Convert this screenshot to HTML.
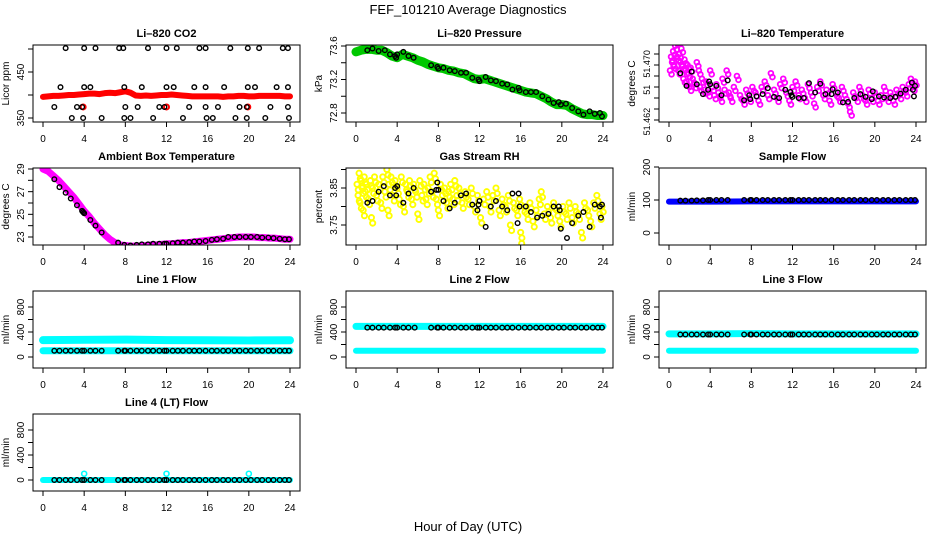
<!DOCTYPE html>
<html><head><meta charset="utf-8">
<style>
html,body{margin:0;padding:0;background:#fff;}
svg{display:block;font-family:"Liberation Sans",Arial,sans-serif;}
</style></head>
<body>
<svg id="chart" width="936" height="540" viewBox="0 0 936 540" xmlns="http://www.w3.org/2000/svg">
<rect x="0" y="0" width="936" height="540" fill="#fff"/>
<text x="468" y="14" text-anchor="middle" font-size="13">FEF_101210  Average Diagnostics</text>
<text x="468" y="531" text-anchor="middle" font-size="13">Hour of Day (UTC)</text>
</svg>
<script>
// ---------- data ----------
const xTicks=[0,4,8,12,16,20,24];
const hourGrid=[0,0.5,1,1.5,2,2.5,3,3.5,4,4.5,5,5.5,6,6.5,7,7.5,8,8.5,9,9.5,10,10.5,11,11.5,12,12.5,13,13.5,14,14.5,15,15.5,16,16.5,17,17.5,18,18.5,19,19.5,20,20.5,21,21.5,22,22.5,23,23.5,24];

// CO2
const co2Red=[396,397,398,398,399,400,400,401,402,403,403,402,404,405,404,406,408,405,399,398,399,398,399,400,400,401,400,399,398,397,397,397,397,397,397,396,397,397,398,398,397,397,398,398,398,398,398,397,397];
const co2BlackH=[2.2,4,5.1,7.4,7.8,10.2,12,13,15.2,15.8,18.2,19.9,21,23.3,23.8, 1.7,4,4.6,7.9,9.6,12,12.7,14.7,15.8,17.6,19.9,20.6,22.7,23.8, 1.1,3.3,3.8,8,9.2,11.3,11.8,14.2,15.8,17,19.1,19.8,22.1,23.8, 2.8,3.9,5.7,7.9,8.5,10.7,13.6,15.9,16.5,18.7,19.8,21.6,23.9];
const co2BlackV=[502,502,502,502,502,502,502,502,502,502,502,502,502,502,502, 417,417,417,417,417,417,417,417,417,417,417,417,417,417, 374,374,374,374,374,374,374,374,374,374,374,374,374,374, 350,350,350,350,350,350,350,350,350,350,350,350,350,350];
const co2RedDotH=[3.9,12,19.9];
const co2RedDotV=[374,374,374];

// Pressure
const presGreen=[73.53,73.55,73.56,73.56,73.55,73.55,73.52,73.48,73.46,73.5,73.48,73.46,73.43,73.41,73.38,73.36,73.34,73.33,73.31,73.3,73.28,73.27,73.24,73.21,73.2,73.21,73.19,73.17,73.15,73.13,73.11,73.09,73.07,73.05,73.04,73.03,73.0,72.97,72.93,72.9,72.9,72.89,72.85,72.82,72.79,72.78,72.78,72.77,72.77];
const presBlackH=[1.1,1.6,2.2,2.8,3.3,3.8,3.9,4,4.6,5.1,5.6,7.3,7.9,8,8.5,9.1,9.6,10.2,10.7,11.3,11.9,12,12.6,13.1,13.6,14.2,14.7,15.2,15.8,15.9,16.5,17,17.5,18.1,18.7,19.2,19.7,19.9,20.4,21,21.6,22.1,22.7,23.2,23.7,23.9];
const presBlackV=[73.55,73.57,73.54,73.55,73.5,73.48,73.46,73.5,73.53,73.48,73.46,73.37,73.35,73.33,73.34,73.31,73.3,73.28,73.28,73.22,73.2,73.18,73.23,73.19,73.18,73.15,73.14,73.08,73.1,73.07,73.05,73.05,73.05,73.0,72.96,72.92,72.93,72.9,72.91,72.86,72.82,72.78,72.82,72.79,72.8,72.76];

// Li-820 temperature
const tempMagH=[0.1,0.2,0.3,0.4,0.5,0.6,0.7,0.8,0.9,1.0,1.1,1.2,1.3,1.4,1.5,1.6,1.7,1.8,1.9,2.0,2.1,2.3,2.5,2.7,2.9,3.0,3.2,3.4,3.6,3.8,4.0,4.2,4.4,4.6,4.8,5.0,5.2,5.4,5.6,5.8,6.0,6.3,6.6,6.9,7.2,7.5,7.8,8.1,8.4,8.7,9.0,9.3,9.6,9.9,10.2,10.5,10.8,11.1,11.4,11.7,12.0,12.3,12.6,12.9,13.2,13.5,13.8,14.1,14.4,14.7,15.0,15.3,15.6,15.9,16.2,16.5,16.8,17.1,17.4,17.6,17.9,18.2,18.5,18.8,19.1,19.4,19.7,20.0,20.3,20.6,20.9,21.2,21.5,21.8,22.1,22.4,22.7,23.0,23.3,23.5,23.7,23.9];
const tempMagV=[51.4690,51.4715,51.4705,51.4725,51.4700,51.4735,51.4745,51.4715,51.4690,51.4720,51.4705,51.4730,51.4700,51.4675,51.4710,51.4690,51.4670,51.4700,51.4685,51.4660,51.4695,51.4675,51.4665,51.4705,51.4690,51.4660,51.4675,51.4655,51.4670,51.4650,51.4690,51.4660,51.4645,51.4665,51.4650,51.4640,51.4675,51.4655,51.4690,51.4650,51.4640,51.4660,51.4680,51.4645,51.4635,51.4655,51.4640,51.4660,51.4650,51.4635,51.4660,51.4670,51.4645,51.4685,51.4655,51.4640,51.4665,51.4675,51.4650,51.4635,51.4660,51.4670,51.4645,51.4655,51.4640,51.4665,51.4650,51.4630,51.4660,51.4670,51.4645,51.4655,51.4635,51.4665,51.4650,51.4640,51.4660,51.4645,51.4630,51.4615,51.4650,51.4640,51.4660,51.4645,51.4635,51.4655,51.4640,51.4650,51.4635,51.4645,51.4660,51.4640,51.4650,51.4635,51.4655,51.4645,51.4660,51.4650,51.4665,51.4675,51.4660,51.4670];
const tempBlackH=[1.1,1.7,2.2,2.7,3.3,3.8,3.9,4.0,4.6,5.1,5.7,7.3,7.8,7.9,8.5,9.1,9.6,10.2,10.7,11.3,11.8,11.9,12.0,12.6,13.1,13.6,14.2,14.7,15.2,15.8,15.9,16.4,16.9,17.4,18.0,18.6,19.1,19.7,19.8,20.4,20.9,21.5,22.0,22.5,23.0,23.6,23.7,23.8,23.9];
const tempBlackV=[51.4685,51.4662,51.4688,51.4665,51.4647,51.4655,51.4670,51.4665,51.4662,51.4645,51.4672,51.4636,51.4645,51.4638,51.4643,51.4647,51.4658,51.4642,51.4640,51.4655,51.4651,51.4645,51.4642,51.4640,51.4640,51.4667,51.4650,51.4666,51.4647,51.4647,51.4656,51.4650,51.4632,51.4633,51.4640,51.4647,51.4642,51.4638,51.4652,51.4643,51.4641,51.4640,51.4642,51.4648,51.4655,51.4668,51.4655,51.4643,51.4662];

// Ambient box temperature
const ambLine=[29.0,28.8,28.4,28.0,27.5,27.0,26.5,25.9,25.3,24.8,24.2,23.7,23.2,22.8,22.5,22.3,22.25,22.2,22.2,22.2,22.25,22.3,22.3,22.35,22.4,22.4,22.45,22.5,22.5,22.55,22.6,22.65,22.7,22.75,22.8,22.85,22.9,22.95,23.0,23.0,23.0,23.0,22.95,22.95,22.9,22.9,22.85,22.8,22.8];
const ambBlackH=[1.1,1.6,2.2,2.7,3.3,3.8,3.9,4.0,4.6,5.1,5.7,7.3,7.9,8.5,9.1,9.6,10.2,10.7,11.3,11.8,12.0,12.6,13.1,13.6,14.2,14.7,15.2,15.8,16.4,16.9,17.5,18.0,18.6,19.1,19.7,20.2,20.8,21.3,21.9,22.4,23.0,23.5,23.9];
const ambBlackV=[28.1,27.4,26.9,26.4,25.8,25.3,25.2,25.1,24.5,24.0,23.4,22.5,22.3,22.25,22.3,22.35,22.35,22.4,22.4,22.4,22.4,22.45,22.5,22.5,22.55,22.6,22.6,22.65,22.75,22.8,22.85,23.0,23.0,23.0,23.0,23.0,23.0,22.95,22.95,22.9,22.85,22.8,22.8];

// Gas stream RH
const rhYelH=[0.1,0.2,0.3,0.4,0.5,0.6,0.7,0.8,0.9,1.0,1.2,1.4,1.5,1.6,1.8,2.0,2.2,2.4,2.6,2.8,3.0,3.1,3.2,3.4,3.6,3.8,4.0,4.2,4.4,4.6,4.8,5.0,5.2,5.4,5.6,5.8,6.0,6.2,6.4,6.6,6.8,7.0,7.2,7.4,7.6,7.8,8.0,8.2,8.4,8.6,8.8,9.0,9.2,9.4,9.6,9.8,10.0,10.3,10.6,10.9,11.2,11.5,11.8,12.1,12.4,12.7,13.0,13.3,13.6,13.9,14.2,14.5,14.8,15.0,15.3,15.6,15.9,16.0,16.1,16.3,16.6,16.9,17.2,17.5,17.8,18.0,18.3,18.6,18.9,19.2,19.5,19.8,20.1,20.4,20.7,21.0,21.3,21.6,21.9,22.2,22.5,22.8,23.1,23.4,23.7,23.9];
const rhYelV=[3.86,3.83,3.89,3.81,3.87,3.85,3.79,3.88,3.84,3.86,3.82,3.87,3.77,3.85,3.88,3.83,3.86,3.81,3.88,3.84,3.90,3.79,3.86,3.88,3.83,3.87,3.85,3.82,3.88,3.80,3.86,3.84,3.87,3.82,3.86,3.84,3.78,3.87,3.83,3.86,3.82,3.85,3.88,3.84,3.89,3.82,3.79,3.86,3.83,3.85,3.81,3.84,3.86,3.82,3.87,3.83,3.85,3.81,3.84,3.82,3.85,3.80,3.83,3.77,3.82,3.84,3.80,3.83,3.85,3.79,3.82,3.80,3.83,3.75,3.81,3.79,3.82,3.73,3.70,3.80,3.78,3.81,3.76,3.79,3.82,3.84,3.78,3.80,3.77,3.81,3.79,3.76,3.80,3.78,3.81,3.77,3.80,3.78,3.73,3.81,3.79,3.76,3.81,3.83,3.78,3.80];
const rhBlackH=[1.1,1.6,2.2,2.7,3.3,3.8,3.9,4.0,4.6,5.1,5.6,7.3,7.8,7.9,8.0,8.5,9.1,9.6,10.2,10.7,11.3,11.8,11.9,12.0,12.6,13.1,13.6,14.2,14.7,15.2,15.7,15.8,15.9,16.5,17.0,17.6,18.1,18.7,19.2,19.7,19.8,19.9,20.5,21.0,21.6,22.1,22.7,23.2,23.7,23.8,23.9];
const rhBlackV=[3.81,3.815,3.84,3.855,3.83,3.85,3.83,3.855,3.81,3.835,3.85,3.84,3.845,3.865,3.845,3.815,3.795,3.81,3.83,3.835,3.805,3.79,3.805,3.815,3.745,3.80,3.815,3.80,3.79,3.835,3.755,3.835,3.80,3.80,3.785,3.77,3.775,3.78,3.80,3.80,3.79,3.74,3.715,3.755,3.775,3.785,3.745,3.805,3.80,3.77,3.805];

// Sample flow
const sampleBlueH=[0,4,8,12,16,20,24];
const sampleBlueV=[95,95,96,96,96,96,96];
const flowBlackH=[1.1,1.6,2.2,2.7,3.3,3.8,4.0,4.6,5.1,5.7,7.3,7.9,8.0,8.5,9.1,9.6,10.2,10.7,11.3,11.8,12.0,12.6,13.1,13.6,14.2,14.7,15.2,15.8,16.4,16.9,17.5,18.0,18.6,19.1,19.7,20.2,20.8,21.3,21.9,22.4,23.0,23.5,23.9];
const sampleBlackV=[98,98,98,99,99,100,100,100,100,100,100,100,100,100,100,100,100,100,100,100,100,100,100,100,100,100,100,100,100,100,100,100,100,100,100,100,100,100,100,100,100,100,100];

// Line flows (cyan bands sampled at hours)
const lineH=[0,4,8,12,16,20,24];
const line1High=[270,275,278,270,268,265,268];
const line1Low=[100,100,100,100,100,100,100];
const line1Black=100;
const line2High=[490,490,490,490,490,490,490];
const line2Low=[100,100,100,100,100,100,100];
const line2Black=470;
const line3High=[370,370,375,370,370,370,370];
const line3Low=[100,100,100,100,100,100,100];
const line3Black=360;
const line4Low=[0,0,0,0,0,0,0];
const line4Black=0;
const line4SpikeH=[4,12,20];
const line4SpikeV=[100,100,100];

// ---------- drawing ----------
const NS='http://www.w3.org/2000/svg';
const svg=document.getElementById('chart');
function el(tag,attrs,parent){const e=document.createElementNS(NS,tag);for(const k in attrs)e.setAttribute(k,attrs[k]);(parent||svg).appendChild(e);return e;}

const W=267,H=77;
function makePanel(cfg){
  const g=el('g',{});
  
  
  const L=cfg.left,T=cfg.top;
  const xs=h=>L+10+h*(247/24);
  const ys=v=>cfg.a[1]+(v-cfg.a[0])*(cfg.b[1]-cfg.a[1])/(cfg.b[0]-cfg.a[0]);
  const t=el('text',{x:L+W/2,y:T-8,'text-anchor':'middle','font-size':11,'font-weight':'bold'},g);
  t.textContent=cfg.title;
  
  
  const yl=el('text',{x:0,y:0,'text-anchor':'middle','font-size':10,transform:`translate(${L-24},${T+H/2}) rotate(-90)`},g);
  yl.textContent=cfg.ylab;
  
  
  el('line',{x1:xs(0),x2:xs(24),y1:T+H,y2:T+H,stroke:'#000'},g);
  xTicks.forEach(v=>{
    el('line',{x1:xs(v),x2:xs(v),y1:T+H,y2:T+H+5,stroke:'#000'},g);
    const tx=el('text',{x:xs(v),y:T+H+20,'text-anchor':'middle','font-size':10},g);
    tx.textContent=v;
    
    
  });
  cfg.ticks.forEach(v=>{el('line',{x1:L-5,x2:L,y1:ys(v),y2:ys(v),stroke:'#000'},g);});
  const lfs=cfg.labelSize||10;
  cfg.labels.forEach(([v,s])=>{
    const ty=el('text',{x:0,y:0,'text-anchor':'middle','font-size':lfs,transform:`translate(${L-9},${ys(v)}) rotate(-90)`},g);
    ty.textContent=s;
    
    
  });
  const cp='clip'+cfg.name;
  const cl=el('clipPath',{id:cp},g);el('rect',{x:L,y:T,width:W,height:H},cl);
  const plot=el('g',{'clip-path':`url(#${cp})`},g);
  
  
  cfg.draw(plot,xs,ys);
  el('rect',{x:L,y:T,width:W,height:H,fill:'none',stroke:'#000'},g);
}
function band(p,xs,ys,H_,V,color,w,name){
  const pl=el('polyline',{points:H_.map((h,i)=>xs(h)+','+ys(V[i])).join(' '),fill:'none',stroke:color,'stroke-width':w,'stroke-linejoin':'round','stroke-linecap':'round'},p);
  
  
}
function pts(p,xs,ys,H_,V,color,r,sw,name){
  H_.forEach((h,i)=>{
    const v=Array.isArray(V)?V[i]:V;
    const c=el('circle',{cx:xs(h),cy:ys(v),r:r,fill:'none',stroke:color,'stroke-width':sw},p);
    
    
  });
}
const C=[33,346,659], R=[45,168,291,414];

makePanel({name:'panel-co2',title:'Li\u2013820 CO2',ylab:'Licor ppm',left:C[0],top:R[0],a:[350,118],b:[450,72],ticks:[350,400,450,500],labels:[[350,'350'],[450,'450']],
 draw:(p,xs,ys)=>{band(p,xs,ys,hourGrid,co2Red,'#f00',6,'co2-red-series');pts(p,xs,ys,co2RedDotH,co2RedDotV,'#f00',2.5,2,'co2-red-point');pts(p,xs,ys,co2BlackH,co2BlackV,'#000',2.3,1.4,'co2-black-point');}});
makePanel({name:'panel-pressure',title:'Li\u2013820 Pressure',ylab:'kPa',left:C[1],top:R[0],a:[73.6,46],b:[72.8,113],ticks:[72.8,73.0,73.2,73.4,73.6],labels:[[72.8,'72.8'],[73.2,'73.2'],[73.6,'73.6']],
 draw:(p,xs,ys)=>{band(p,xs,ys,hourGrid,presGreen,'#00c800',9,'pressure-green-series');pts(p,xs,ys,presBlackH,presBlackV,'#000',2.3,1.4,'pressure-black-point');}});
makePanel({name:'panel-li820-temp',title:'Li\u2013820 Temperature',ylab:'degrees C',left:C[2],top:R[0],labelSize:9,a:[51.470,65],b:[51.462,109],ticks:[51.460,51.462,51.464,51.466,51.468,51.470,51.472],labels:[[51.4597,'51.462'],[51.4655,'51'],[51.4702,'51.470']],
 draw:(p,xs,ys)=>{pts(p,xs,ys,tempMagH,tempMagV,'#f0f',2.4,1.8,'temp-magenta-point');pts(p,xs,ys,tempMagH.map(h=>h+0.15),tempMagV.map(v=>v-0.0007),'#f0f',2.4,1.8,'temp-magenta-point');pts(p,xs,ys,tempBlackH,tempBlackV,'#000',2.3,1.4,'temp-black-point');}});
makePanel({name:'panel-ambient',title:'Ambient Box Temperature',ylab:'degrees C',left:C[0],top:R[1],a:[29,169],b:[23,237],ticks:[23,24,25,26,27,28,29],labels:[[23,'23'],[25,'25'],[27,'27'],[29,'29']],
 draw:(p,xs,ys)=>{band(p,xs,ys,hourGrid,ambLine,'#f0f',7,'ambient-magenta-series');pts(p,xs,ys,ambBlackH,ambBlackV,'#000',2.3,1.4,'ambient-black-point');}});
makePanel({name:'panel-rh',title:'Gas Stream RH',ylab:'percent',left:C[1],top:R[1],a:[3.85,188],b:[3.75,225],ticks:[3.75,3.80,3.85,3.90],labels:[[3.75,'3.75'],[3.85,'3.85']],
 draw:(p,xs,ys)=>{pts(p,xs,ys,rhYelH,rhYelV,'#ff0',2.6,1.9,'rh-yellow-point');pts(p,xs,ys,rhYelH.map(h=>h+0.12),rhYelV.map(v=>v-0.015),'#ff0',2.6,1.9,'rh-yellow-point');pts(p,xs,ys,rhBlackH,rhBlackV,'#000',2.3,1.4,'rh-black-point');}});
makePanel({name:'panel-sample-flow',title:'Sample Flow',ylab:'ml/min',left:C[2],top:R[1],a:[0,233],b:[200,167],ticks:[0,100,200],labels:[[0,'0'],[100,'100'],[200,'200']],
 draw:(p,xs,ys)=>{band(p,xs,ys,sampleBlueH,sampleBlueV,'#00f',6,'sample-blue-series');pts(p,xs,ys,flowBlackH,sampleBlackV,'#000',2.3,1.4,'sample-black-point');}});
const flowTicks=[0,200,400,600,800], flowLabels=[[0,'0'],[400,'400'],[800,'800']];
makePanel({name:'panel-line1',title:'Line 1 Flow',ylab:'ml/min',left:C[0],top:R[2],a:[0,357],b:[800,307],ticks:flowTicks,labels:flowLabels,
 draw:(p,xs,ys)=>{band(p,xs,ys,lineH,line1High,'#0ff',8,'line1-high-series');band(p,xs,ys,lineH,line1Low,'#0ff',7,'line1-low-series');pts(p,xs,ys,flowBlackH,line1Black,'#000',2.3,1.4,'line1-black-point');}});
makePanel({name:'panel-line2',title:'Line 2 Flow',ylab:'ml/min',left:C[1],top:R[2],a:[0,357],b:[800,307],ticks:flowTicks,labels:flowLabels,
 draw:(p,xs,ys)=>{band(p,xs,ys,lineH,line2High,'#0ff',7,'line2-high-series');band(p,xs,ys,lineH,line2Low,'#0ff',6,'line2-low-series');pts(p,xs,ys,flowBlackH,line2Black,'#000',2.3,1.4,'line2-black-point');}});
makePanel({name:'panel-line3',title:'Line 3 Flow',ylab:'ml/min',left:C[2],top:R[2],a:[0,357],b:[800,307],ticks:flowTicks,labels:flowLabels,
 draw:(p,xs,ys)=>{band(p,xs,ys,lineH,line3High,'#0ff',7,'line3-high-series');band(p,xs,ys,lineH,line3Low,'#0ff',6,'line3-low-series');pts(p,xs,ys,flowBlackH,line3Black,'#000',2.3,1.4,'line3-black-point');}});
makePanel({name:'panel-line4',title:'Line 4 (LT) Flow',ylab:'ml/min',left:C[0],top:R[3],a:[0,480],b:[800,430],ticks:flowTicks,labels:flowLabels,
 draw:(p,xs,ys)=>{band(p,xs,ys,lineH,line4Low,'#0ff',6,'line4-cyan-series');pts(p,xs,ys,line4SpikeH,line4SpikeV,'#0ff',2.5,1.6,'line4-cyan-spike');pts(p,xs,ys,flowBlackH,line4Black,'#000',2.3,1.4,'line4-black-point');}});
</script>
</body></html>
